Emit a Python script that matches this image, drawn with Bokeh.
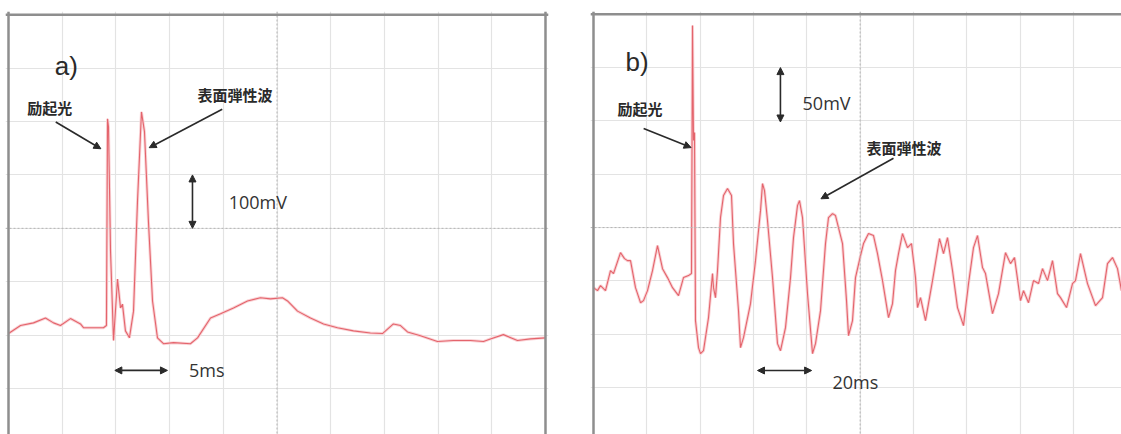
from bokeh.plotting import figure
from bokeh.models import Span, Arrow, NormalHead, Label, Grid, FixedTicker, Range1d
from bokeh.layouts import row
from bokeh.embed import file_html
from bokeh.resources import INLINE

# ---- panel a) : 5 ms/div, 100 mV/div ----
time_a_ms = [0, 1.12, 2.33, 3.44, 4.19, 4.84, 5.77, 6.70, 6.98, 8.84, 9.12, 9.22, 9.31, 9.50,
             9.78, 10.15, 10.43, 10.61, 10.89, 11.26, 11.64, 12.01, 12.38, 12.66, 13.03, 13.41,
             13.87, 14.43, 15.36, 16.94, 17.60, 18.81, 19.74, 20.95, 22.25, 23.46, 24.39, 25.51,
             25.98, 26.91, 28.12, 29.33, 30.63, 32.12, 33.70, 34.82, 35.84, 36.50, 37.15, 38.36,
             39.94, 41.43, 43.01, 44.22, 44.87, 46.08, 47.39, 48.60, 50.00]
volt_a_mV = [-197, -182, -177, -168, -177, -182, -169, -179, -186, -186, -182, 205, 190, -43,
             -210, -95, -149, -142, -192, -205, -155, 50, 218, 181, 13, -136,
             -205, -216, -214, -216, -205, -168, -160, -149, -136, -130, -132, -130,
             -136, -155, -168, -179, -186, -192, -196, -197, -179, -182, -194, -201,
             -212, -210, -210, -212, -207, -199, -210, -207, -205]

# ---- panel b) : 20 ms/div, 50 mV/div ----
time_b_ms = [0, 1.5, 2.63, 4.5, 6.38, 7.5, 10.13, 11.63, 12.75, 13.88, 15.75, 17.63, 18.75, 20.25,
             22.13, 24.0, 25.88, 27.75, 29.63, 31.88, 33.75, 35.63, 36.75, 37.13, 37.5, 37.88,
             38.25, 39.38, 40.13, 41.25, 43.13, 44.63, 45.0, 45.75, 46.5, 47.63, 48.75, 50.25,
             51.75, 52.5, 54.38, 55.13, 56.25, 58.88, 60.75, 62.63, 63.38, 64.13, 65.25, 67.13,
             69.0, 70.13, 72.0, 73.88, 75.0, 76.5, 77.25, 78.38, 80.25, 82.13, 83.25, 85.13,
             87.0, 88.13, 89.63, 90.75, 93.38, 94.88, 95.63, 97.13, 98.25, 100.13, 101.25,
             103.13, 105.0, 106.5, 108.38, 110.63, 112.13, 113.25, 114.38, 115.88, 117.75,
             119.25, 120.75, 121.5, 122.63, 124.5, 127.13, 129.0, 129.75, 131.25, 132.75,
             134.63, 136.5, 138.75, 140.63, 142.5, 144.0, 145.88, 147.0, 149.63, 151.88, 154.5,
             156.38, 157.88, 160.13, 161.25, 163.13, 165.0, 166.88, 168.38, 170.25, 172.13,
             174.0, 175.13, 177.38, 179.63, 180.75, 182.63, 185.25, 188.25, 190.88, 192.75,
             194.63, 196.5, 198.0]
volt_b_mV = [-56.3, -59.1, -54.4, -59.1, -40.3, -43.1, -23.5, -29.1, -31.0, -31.0, -56.3, -70.4,
             -68.5, -59.1, -40.3, -16.9, -38.5, -46.9, -56.3, -63.8, -46.9, -45.0, -43.1, 189.5,
             81.6, 89.1, -87.2, -112.6, -118.2, -115.4, -84.4, -43.1, -56.3, -65.7, -40.3, 9.4,
             30.0, 36.6, 30.0, -15.0, -77.9, -112.6, -103.2, -71.3, -31.0, 15.9, 41.3, 34.7,
             6.6, -46.9, -108.8, -115.4, -93.8, -46.9, -9.4, 20.6, 25.3, 9.4, -61.9, -118.2,
             -108.8, -77.9, -15.0, 9.4, 13.1, 11.3, -15.0, -68.5, -101.3, -87.2, -46.9, -26.3,
             -15.0, -5.6, -7.5, -24.4, -49.7, -84.4, -71.3, -40.3, -24.4, -5.6, -18.8, -15.0,
             -46.9, -75.0, -65.7, -87.2, -49.7, -21.6, -10.3, -24.4, -9.4, -40.3, -75.0, -91.9,
             -52.5, -18.8, -7.5, -37.5, -43.1, -80.7, -61.9, -23.5, -33.8, -28.1, -68.5, -59.1,
             -70.4, -49.7, -52.5, -38.5, -49.7, -31.0, -61.9, -65.7, -75.0, -52.5, -49.7, -24.4,
             -52.5, -73.2, -65.7, -33.8, -28.1, -38.5, -59.1]

grid_a_x = [0, 5, 10, 15, 20, 25, 30, 35, 40, 45, 50]
grid_a_y = [-400, -300, -200, -100, 0, 100, 200, 300, 400]
grid_b_x = [0, 20, 40, 60, 80, 100, 120, 140, 160, 180, 200]
grid_b_y = [-200, -150, -100, -50, 0, 50, 100, 150, 200]

label_a = "a)"
label_b = "b)"
excite_label = "励起光"
saw_label = "表面弾性波"
scale_a_v = "100mV"
scale_a_t = "5ms"
scale_b_v = "50mV"
scale_b_t = "20ms"

TRACE = "#e4646c"
HALO = "#f9d3d6"
GRIDC = "#e3e3e3"
BORDER = "#8e8e8e"
INK = "#2a2a2a"
LATIN = "Open Sans"
CJK = "Noto Sans CJK JP"


def base(width, height, xr, yr, left, top, right, gx, gy):
    p = figure(width=width, height=height, x_range=Range1d(*xr), y_range=Range1d(*yr),
               output_backend="svg", toolbar_location=None,
               x_axis_location=None, y_axis_location=None,
               min_border_left=left, min_border_right=right, min_border_top=top,
               min_border_bottom=0, outline_line_color=None,
               background_fill_color="white", border_fill_color="white")
    p.grid.visible = False
    p.add_layout(Grid(dimension=0, ticker=FixedTicker(ticks=gx), grid_line_color=GRIDC,
                      grid_line_width=1.2))
    p.add_layout(Grid(dimension=1, ticker=FixedTicker(ticks=gy), grid_line_color=GRIDC,
                      grid_line_width=1.2))
    return p


def arrow(p, x0, y0, x1, y1, both=False):
    head = NormalHead(size=7, fill_color=INK, line_color=INK, line_width=1)
    start = NormalHead(size=7, fill_color=INK, line_color=INK, line_width=1) if both else None
    p.add_layout(Arrow(x_start=x0, y_start=y0, x_end=x1, y_end=y1, end=head, start=start,
                       line_color=INK, line_width=1.6))


def label(p, x, y, text, size, font, color=INK, style="normal"):
    p.add_layout(Label(x=x, y=y, text=text, text_font_size=size, text_font=font,
                       text_color=color, text_baseline="middle", text_align="left",
                       text_font_style=style))


# panel a  (page x 0..590, frame 5..548, frame top 9)
pa = base(590, 434, (-0.28, 50.28), (-386, 406), 5, 9, 42, grid_a_x, grid_a_y)
pa.add_layout(Span(location=25, dimension="height", line_color="#b4b4b4", line_width=1,
                   line_dash="2 2"))
pa.add_layout(Span(location=0, dimension="width", line_color="#b4b4b4", line_width=1,
                   line_dash="2 2"))
pa.line(time_a_ms, volt_a_mV, line_color=HALO, line_width=3)
pa.line(time_a_ms, volt_a_mV, line_color=TRACE, line_width=1.1)
pa.add_layout(Span(location=0, dimension="height", line_color=BORDER, line_width=2.5))
pa.add_layout(Span(location=400, dimension="width", line_color=BORDER, line_width=2.5))
pa.add_layout(Span(location=50, dimension="height", line_color=BORDER, line_width=2.5))
label(pa, 4.3, 304, label_a, "26px", "Liberation Sans")
label(pa, 1.75, 227, excite_label, "15px", CJK, style="bold")
label(pa, 17.6, 250, saw_label, "15px", CJK, style="bold")
arrow(pa, 4.4, 199, 8.6, 149)
arrow(pa, 19.9, 223, 13.1, 151)
arrow(pa, 17.13, 100, 17.13, 0, both=True)
label(pa, 20.5, 50, scale_a_v, "18px", LATIN, color="#333333")
arrow(pa, 9.9, -266, 14.8, -266, both=True)
label(pa, 16.8, -266, scale_a_t, "18px", LATIN, color="#333333")

# panel b  (page x 590..1121, frame top 11)
pb = base(531, 434, (-1.125, 198), (-194, 202.6), 0, 11, 0, grid_b_x, grid_b_y)
pb.add_layout(Span(location=100, dimension="height", line_color="#b4b4b4", line_width=1,
                   line_dash="2 2"))
pb.add_layout(Span(location=0, dimension="width", line_color="#b4b4b4", line_width=1,
                   line_dash="2 2"))
pb.line(time_b_ms, volt_b_mV, line_color=HALO, line_width=3)
pb.line(time_b_ms, volt_b_mV, line_color=TRACE, line_width=1.1)
pb.add_layout(Span(location=0, dimension="height", line_color=BORDER, line_width=2.5))
pb.add_layout(Span(location=200, dimension="width", line_color=BORDER, line_width=2.5))
label(pb, 12.0, 155, label_b, "26px", "Liberation Sans")
label(pb, 9.0, 112, excite_label, "15px", CJK, style="bold")
label(pb, 102.4, 75, saw_label, "15px", CJK, style="bold")
arrow(pb, 18.8, 93, 36.6, 75)
arrow(pb, 112.5, 65, 85.3, 27)
arrow(pb, 70.1, 150, 70.1, 99, both=True)
label(pb, 78.4, 117, scale_b_v, "18px", LATIN, color="#333333")
arrow(pb, 61.5, -134, 81.8, -134, both=True)
label(pb, 89.6, -145, scale_b_t, "18px", LATIN, color="#333333")

layout = row(pa, pb)
open("out.html", "w").write(file_html(layout, INLINE))
